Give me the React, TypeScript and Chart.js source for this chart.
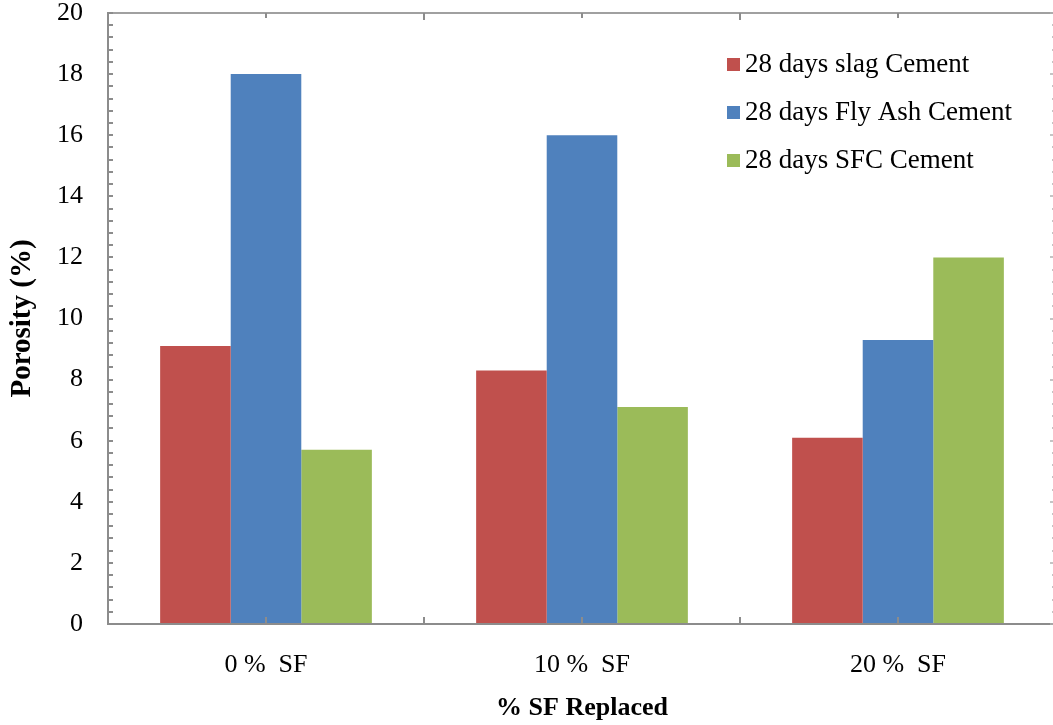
import React, { useEffect, useRef } from "react";
import { Chart, registerables } from "chart.js";

Chart.register(...registerables);

const categories = ["0 %  SF", "10 %  SF", "20 %  SF"];
const slagValues = [9.1, 8.3, 6.1];
const flyAshValues = [18.0, 16.0, 9.3];
const sfcValues = [5.7, 7.1, 12.0];
const seriesLabels = ["28 days slag Cement", "28 days Fly Ash Cement", "28 days SFC Cement"];
const seriesColors = ["#C0504D", "#4F81BD", "#9BBB59"];
const yTickValues = [0, 2, 4, 6, 8, 10, 12, 14, 16, 18, 20];

const FONT = "'Liberation Serif', 'Times New Roman', serif";

const framePlugin = {
  id: "frame",
  afterDraw(chart: any) {
    const { ctx, chartArea } = chart;
    const { left, right, top, bottom } = chartArea;
    const y = chart.scales.y;
    const x = chart.scales.x;
    ctx.save();
    // frame
    ctx.strokeStyle = "#a0a0a0";
    ctx.lineWidth = 2;
    ctx.beginPath();
    ctx.moveTo(left, top);
    ctx.lineTo(right, top);
    ctx.moveTo(right, top);
    ctx.lineTo(right, bottom);
    ctx.stroke();
    ctx.strokeStyle = "#8c8c8c";
    ctx.beginPath();
    ctx.moveTo(left, top - 1);
    ctx.lineTo(left, bottom);
    ctx.lineTo(right, bottom);
    ctx.stroke();
    // left minor ticks (inward)
    ctx.lineWidth = 2;
    ctx.strokeStyle = "#8c8c8c";
    for (let i = 0; i <= 50; i++) {
      const py = Math.round(y.getPixelForValue(i * 0.4));
      ctx.beginPath();
      ctx.moveTo(left, py);
      ctx.lineTo(left + 5, py);
      ctx.stroke();
    }
    // right ticks
    ctx.lineWidth = 1.5;
    ctx.strokeStyle = "#b0b0b0";
    for (let i = 0; i <= 50; i++) {
      const py = Math.round(y.getPixelForValue(i * 0.4));
      const major = i % 5 === 0;
      ctx.beginPath();
      ctx.moveTo(right - (major ? 6 : 4), py);
      ctx.lineTo(right, py);
      ctx.stroke();
    }
    // top & bottom ticks
    ctx.lineWidth = 2;
    ctx.strokeStyle = "#8c8c8c";
    const n = categories.length;
    const w = (right - left) / n;
    for (let i = 0; i <= n; i++) {
      const px = Math.round(left + i * w);
      ctx.beginPath();
      ctx.moveTo(px, top);
      ctx.lineTo(px, top + 7);
      ctx.moveTo(px, bottom);
      ctx.lineTo(px, bottom - 7);
      ctx.stroke();
    }
    for (let i = 0; i < n; i++) {
      const px = Math.round(x.getPixelForValue(i));
      ctx.beginPath();
      ctx.moveTo(px, top);
      ctx.lineTo(px, top + 5);
      ctx.moveTo(px, bottom);
      ctx.lineTo(px, bottom - 7);
      ctx.stroke();
    }
    // legend
    ctx.font = `27px ${FONT}`;
    ctx.textBaseline = "middle";
    ctx.textAlign = "left";
    chart.data.datasets.forEach((ds: any, i: number) => {
      const cy = 64 + i * 48;
      ctx.fillStyle = ds.backgroundColor;
      ctx.fillRect(727, cy - 6, 13, 13);
      ctx.fillStyle = "#000";
      ctx.fillText(ds.label, 745, cy + 1);
    });
    ctx.restore();
  },
};

export default function App() {
  const ref = useRef<HTMLCanvasElement>(null);
  useEffect(() => {
    if (!ref.current) return;
    const chart = new Chart(ref.current, {
      type: "bar",
      data: {
        labels: categories,
        datasets: [
          { label: seriesLabels[0], data: slagValues, backgroundColor: seriesColors[0] },
          { label: seriesLabels[1], data: flyAshValues, backgroundColor: seriesColors[1] },
          { label: seriesLabels[2], data: sfcValues, backgroundColor: seriesColors[2] },
        ],
      },
      options: {
        responsive: false,
        animation: false,
        layout: { padding: { left: 0, right: 14, top: 13, bottom: 0 } },
        datasets: { bar: { categoryPercentage: 0.67, barPercentage: 1.0, borderWidth: 0 } },
        plugins: { legend: { display: false }, tooltip: { enabled: false } },
        scales: {
          x: {
            grid: { display: false, drawTicks: false },
            border: { display: false },
            ticks: { color: "#000", font: { family: FONT, size: 26 }, padding: 26 },
            title: {
              display: true,
              text: "% SF Replaced",
              color: "#000",
              font: { family: FONT, size: 26, weight: "bold" },
              padding: { top: 0, bottom: 1 },
            },
            afterFit: (s: any) => {
              s.height = 101;
              s.paddingLeft = 0;
              s.paddingRight = 0;
            },
          },
          y: {
            min: 0,
            max: 20,
            afterBuildTicks: (s: any) => {
              s.ticks = yTickValues.map((v) => ({ value: v }));
            },
            grid: { display: false, drawTicks: false },
            border: { display: false },
            ticks: { color: "#000", font: { family: FONT, size: 26 }, padding: 25 },
            title: {
              display: true,
              text: "Porosity (%)",
              color: "#000",
              font: { family: FONT, size: 29, weight: "bold" },
              padding: { top: 5, bottom: 0 },
            },
            afterFit: (s: any) => {
              s.width = 108;
              s.paddingTop = 0;
              s.paddingBottom = 0;
            },
          },
        },
      },
      plugins: [framePlugin],
    });
    return () => chart.destroy();
  }, []);
  return (
    <div style={{ position: "absolute", left: 0, top: 0, width: 1053, height: 725, overflow: "hidden", background: "#fff" }}>
      <canvas ref={ref} width={1070} height={725} style={{ display: "block" }} />
    </div>
  );
}
